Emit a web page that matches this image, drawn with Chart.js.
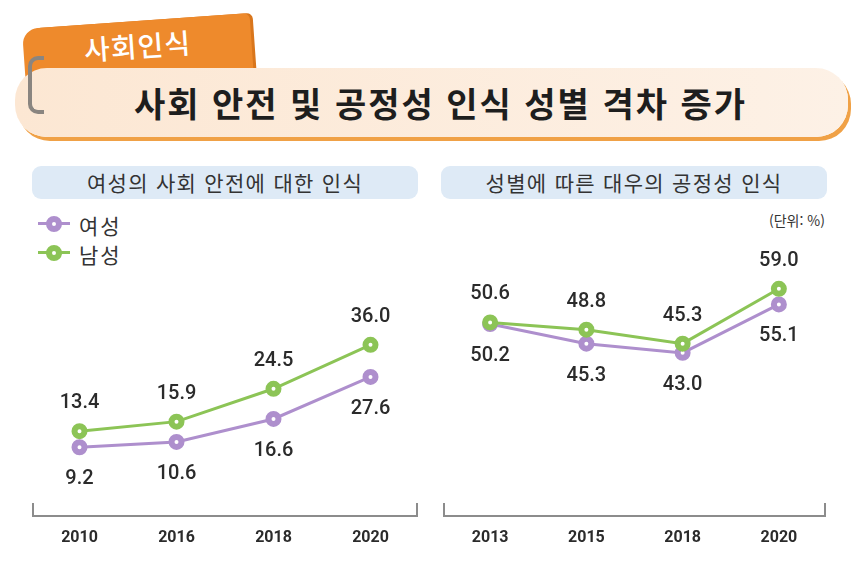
<!DOCTYPE html>
<html lang="ko">
<head>
<meta charset="utf-8">
<title>사회 안전 및 공정성 인식 성별 격차 증가</title>
<script src="https://cdn.jsdelivr.net/npm/chart.js@4.4.1/dist/chart.umd.min.js"></script>
<style>
    html, body { margin: 0; padding: 0; background: #fff; }
    body { width: 862px; height: 565px; position: relative; overflow: hidden; font-family: "Noto Sans CJK KR", "Noto Sans", sans-serif; color: #2b2b2b; }
    .tab { position: absolute; left: 22px; top: 29px; width: 228px; height: 80px; background: #ee8a2c; border-radius: 16px 6px 0 0; transform: rotate(-4deg); transform-origin: left top; box-shadow: 3px 0 0 #d9761c; }
    .tab span { position: absolute; left: 0; right: 0; top: 4px; text-align: center; color: #fff; font-size: 28px; font-weight: 500; letter-spacing: 1px; }
    .clip { position: absolute; left: 28px; top: 56px; width: 12px; height: 50px; border: 4px solid #8a8580; border-right: none; border-radius: 10px 0 0 10px; z-index: 3; }
    .banner { position: absolute; left: 15px; top: 68px; width: 833px; height: 69px; background: linear-gradient(90deg, #fce7d3, #fdf1e6); border-radius: 32px; box-shadow: 3px 4px 0 #f0a146; z-index: 2; }
    .banner span { position: absolute; left: 18px; right: 0; top: 10px; text-align: center; font-size: 34px; font-weight: 700; color: #1e1e1e; letter-spacing: 2px; }
    .sub { position: absolute; top: 166px; height: 33px; width: 386px; background: #deeaf6; border-radius: 9px; text-align: center; font-size: 21px; line-height: 33px; color: #333; letter-spacing: 1.3px; }
    .legend { position: absolute; left: 38px; font-size: 21px; color: #333; line-height: 22px; letter-spacing: 2px; }
    .legend i { display: inline-block; position: relative; width: 32px; height: 20px; vertical-align: top; margin-right: 9px; }
    .legend i::before { content: ""; position: absolute; left: 0; right: 0; top: 8px; height: 3px; background: var(--c); }
    .legend i::after { content: ""; position: absolute; left: 8px; top: 2px; width: 4px; height: 4px; border: 6px solid var(--c); border-radius: 50%; background: #fff; }
    .unit { position: absolute; left: 769px; top: 210px; font-size: 14px; color: #333; }
    .chart { position: absolute; top: 200px; width: 431px; height: 365px; }
</style>
</head>
<body>
<div class="tab"><span>사회인식</span></div>
<div class="clip"></div>
<div class="banner"><span>사회 안전 및 공정성 인식 성별 격차 증가</span></div>

<div class="sub" style="left: 32px;">여성의 사회 안전에 대한 인식</div>
<div class="sub" style="left: 441px;">성별에 따른 대우의 공정성 인식</div>

<div class="legend" style="top: 214px;"><i style="--c: #ae8fcd;"></i>여성</div>
<div class="legend" style="top: 243px;"><i style="--c: #8cc456;"></i>남성</div>
<div class="unit">(단위: %)</div>

<div class="chart" style="left: 0;"><canvas id="safety"></canvas></div>
<div class="chart" style="left: 431px;"><canvas id="fairness"></canvas></div>

<script>
// 여성의 사회 안전에 대한 인식
const safetyYears = ['2010', '2016', '2018', '2020'];
const safetyFemale = [9.2, 10.6, 16.6, 27.6];
const safetyMale = [13.4, 15.9, 24.5, 36.0];

// 성별에 따른 대우의 공정성 인식
const fairnessYears = ['2013', '2015', '2018', '2020'];
const fairnessFemale = [50.2, 45.3, 43.0, 55.1];
const fairnessMale = [50.6, 48.8, 45.3, 59.0];

const seriesNames = ['여성', '남성'];

const PURPLE = '#ae8fcd';
const GREEN = '#8cc456';
const NUM_FONT = 'Roboto, "Liberation Sans", sans-serif';

// value labels above (male) / below (female) each point
const valueLabels = {
    id: 'valueLabels',
    afterDatasetsDraw(chart) {
        const ctx = chart.ctx;
        ctx.save();
        ctx.font = '500 20px ' + NUM_FONT;
        ctx.fillStyle = '#2b2b2b';
        ctx.textAlign = 'center';
        ctx.textBaseline = 'middle';
        chart.data.datasets.forEach((ds, i) => {
            const meta = chart.getDatasetMeta(i);
            meta.data.forEach((pt, j) => {
                ctx.fillText(ds.data[j].toFixed(1), pt.x, pt.y + ds.labelOffset);
            });
        });
        ctx.restore();
    }
};

// bracket-shaped baseline under the points
const bracketAxis = {
    id: 'bracketAxis',
    beforeDatasetsDraw(chart) {
        const { ctx, chartArea } = chart;
        const y = chartArea.bottom + 13;
        const l = chartArea.left + 2;
        const r = chartArea.right - 2;
        ctx.save();
        ctx.strokeStyle = '#8c8c8c';
        ctx.lineWidth = 2;
        ctx.beginPath();
        ctx.moveTo(l, y - 13);
        ctx.lineTo(l, y);
        ctx.lineTo(r, y);
        ctx.lineTo(r, y - 13);
        ctx.stroke();
        ctx.restore();
    }
};

function makeChart(id, years, female, male, yMin, yMax, padding) {
    const line = (label, data, color, offset) => ({
        label: label,
        data: data,
        borderColor: color,
        backgroundColor: '#fff',
        borderWidth: 3,
        pointRadius: 5,
        pointBorderWidth: 6,
        pointBorderColor: color,
        pointBackgroundColor: '#fff',
        tension: 0,
        labelOffset: offset,
    });

    return new Chart(document.getElementById(id), {
        type: 'line',
        data: {
            labels: years,
            datasets: [
                line(seriesNames[1], male, GREEN, -28),
                line(seriesNames[0], female, PURPLE, 32),
            ],
        },
        options: {
            responsive: true,
            maintainAspectRatio: false,
            animation: false,
            layout: { padding: padding },
            plugins: {
                legend: { display: false },
                tooltip: { enabled: false },
            },
            scales: {
                x: {
                    offset: true,
                    grid: { display: false, drawTicks: false },
                    border: { display: false },
                    ticks: {
                        color: '#2b2b2b',
                        padding: 25,
                        font: { family: NUM_FONT, size: 16, weight: 'bold' },
                    },
                    afterFit: (scale) => { scale.height = 62; },
                },
                y: {
                    display: false,
                    min: yMin,
                    max: yMax,
                },
            },
        },
        plugins: [bracketAxis, valueLabels],
    });
}

makeChart('safety', safetyYears, safetyFemale, safetyMale, -5.4, 55.6,
    { left: 31, right: 12, top: 70, bottom: 0 });
makeChart('fairness', fairnessYears, fairnessFemale, fairnessMale, 5.5, 63.7,
    { left: 8, right: 35, top: 70, bottom: 0 });
</script>
</body>
</html>
